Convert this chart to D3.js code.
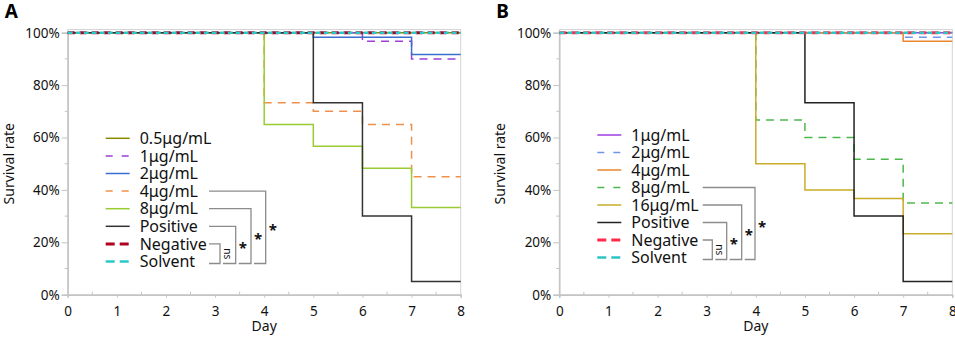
<!DOCTYPE html>
<html>
<head>
<meta charset="utf-8">
<script src="https://cdn.jsdelivr.net/npm/d3@7"></script>
<style>
body { margin: 0; background: #fff; }
text { font-family: "Noto Sans", "DejaVu Sans", sans-serif; }
</style>
</head>
<body>
<script>
// days 0..8, survival (%) from that day on
var days = [0, 1, 2, 3, 4, 5, 6, 7, 8]
var yTicks = [0, 20, 40, 60, 80, 100]

// panel A
var namesA = ['0.5μg/mL', '1μg/mL', '2μg/mL', '4μg/mL', '8μg/mL', 'Positive', 'Negative', 'Solvent']
var a_05 = [100, 100, 100, 100, 100, 100, 100, 100, 100]
var a_1 = [100, 100, 100, 100, 100, 100, 96.7, 90, 90]
var a_2 = [100, 100, 100, 100, 100, 98.3, 98.3, 91.7, 91.7]
var a_4 = [100, 100, 100, 100, 73.3, 70, 65, 45, 45]
var a_8 = [100, 100, 100, 100, 65, 56.7, 48.3, 33.3, 33.3]
var a_pos = [100, 100, 100, 100, 100, 73.3, 30, 5, 5]
var a_neg = [100, 100, 100, 100, 100, 100, 100, 100, 100]
var a_sol = [100, 100, 100, 100, 100, 100, 100, 100, 100]
var sigA = ['*', '*', '*', 'ns']  // 4, 8, Positive, Negative vs solvent

// panel B
var namesB = ['1μg/mL', '2μg/mL', '4μg/mL', '8μg/mL', '16μg/mL', 'Positive', 'Negative', 'Solvent']
var b_1 = [100, 100, 100, 100, 100, 100, 100, 100, 100]
var b_2 = [100, 100, 100, 100, 100, 100, 100, 98.3, 98.3]
var b_4 = [100, 100, 100, 100, 100, 100, 100, 96.7, 96.7]
var b_8 = [100, 100, 100, 100, 66.7, 60, 51.7, 35, 35]
var b_16 = [100, 100, 100, 100, 50, 40, 36.7, 23.3, 23.3]
var b_pos = [100, 100, 100, 100, 100, 73.3, 30, 5, 5]
var b_neg = [100, 100, 100, 100, 100, 100, 100, 100, 100]
var b_sol = [100, 100, 100, 100, 100, 100, 100, 100, 100]
var sigB = ['*', '*', '*', 'ns']

var stylesA = [
	{color: '#8a8a00', dash: null, w: 1.5},
	{color: '#9b3fd6', dash: '8,6', w: 1.5},
	{color: '#3a6fd0', dash: null, w: 1.5},
	{color: '#f0914b', dash: '8,6', w: 1.5},
	{color: '#99cc33', dash: null, w: 1.5},
	{color: '#333333', dash: null, w: 1.5},
	{color: '#b00020', dash: '7,5', w: 3},
	{color: '#2bc8c8', dash: '5,3', w: 2.5}
]
var stylesB = [
	{color: '#a03ce0', dash: null, w: 1.5},
	{color: '#6f95e8', dash: '8,6', w: 1.5},
	{color: '#e8862f', dash: null, w: 1.5},
	{color: '#4cb84c', dash: '8,6', w: 1.5},
	{color: '#c9ac2a', dash: null, w: 1.5},
	{color: '#222222', dash: null, w: 1.5},
	{color: '#ff2a4a', dash: '7,5', w: 3},
	{color: '#2cc4c4', dash: '5,3', w: 2.5}
]

var svg = d3.select('body').append('svg').attr('width', 955).attr('height', 337)

function drawPanel(left, label, names, series, styles, sig, legTop, legStep, brX, brEnds) {
	var x = d3.scaleLinear().domain([0, 8]).range([left, left + 393])
	var y = d3.scaleLinear().domain([0, 100]).range([294.7, 32.7])
	var g = svg.append('g')

	// frame
	g.append('rect').attr('x', x(0)).attr('y', y(101.2)).attr('width', x(8) - x(0))
		.attr('height', y(0) - y(101.2)).attr('fill', 'none').attr('stroke', '#d4d4d4').attr('stroke-width', 1)

	// minor ticks
	g.selectAll('.my').data(d3.range(10, 100, 20)).enter().append('line')
		.attr('x1', x(0) - 3).attr('x2', x(0)).attr('y1', d => y(d)).attr('y2', d => y(d))
		.attr('stroke', '#c4c4c4')
	g.selectAll('.mx').data(d3.range(0.5, 8, 1)).enter().append('line')
		.attr('x1', d => x(d)).attr('x2', d => x(d)).attr('y1', y(0) - 3).attr('y2', y(0))
		.attr('stroke', '#c4c4c4')

	var ax = g.append('g').attr('transform', `translate(0,${y(0)})`)
		.call(d3.axisBottom(x).tickValues(days).tickSize(3).tickFormat(d3.format('d')))
	var ay = g.append('g').attr('transform', `translate(${x(0)},0)`)
		.call(d3.axisLeft(y).tickValues(yTicks).tickSize(6).tickFormat(d => d + '%'))
	;[ax, ay].forEach(function(a) {
		a.select('.domain').attr('stroke', '#c4c4c4').attr('stroke-width', 1.5)
		a.selectAll('.tick line').attr('stroke', '#c4c4c4')
		a.selectAll('.tick text').attr('font-size', 13.5).attr('fill', '#111')
			.attr('font-family', '"Noto Sans", sans-serif')
	})
	ax.selectAll('.tick text').attr('dy', null).attr('y', 21.5)
	ay.selectAll('.tick text').attr('x', -8)

	g.append('text').text('Day').attr('x', x(4)).attr('y', 331)
		.attr('text-anchor', 'middle').attr('font-size', 14).attr('fill', '#111')
	g.append('text').text('Survival rate')
		.attr('transform', `translate(${left - 54},${(y(0) + y(100)) / 2}) rotate(-90)`)
		.attr('text-anchor', 'middle').attr('font-size', 14).attr('fill', '#111')
	g.append('text').text(label).attr('x', left - 63).attr('y', 18)
		.attr('font-size', 19).attr('font-weight', 'bold').attr('font-family', '"Liberation Sans", Arial, sans-serif')

	// curves
	var line = d3.line().x((d, i) => x(days[i])).y(d => y(d)).curve(d3.curveStepAfter)
	series.forEach(function(s, i) {
		g.append('path').datum(s).attr('d', line).attr('fill', 'none')
			.attr('stroke', styles[i].color).attr('stroke-width', styles[i].w)
			.attr('stroke-dasharray', styles[i].dash)
	})

	// legend
	var lx = left + 38
	names.forEach(function(n, i) {
		var yy = legTop + i * legStep
		g.append('line').attr('x1', lx).attr('x2', lx + 24).attr('y1', yy).attr('y2', yy)
			.attr('stroke', styles[i].color).attr('stroke-width', styles[i].w)
			.attr('stroke-dasharray', styles[i].dash ? (styles[i].w > 2 ? '9,5' : (styles[i].dash === '5,3' ? '5,4' : '7,9')) : null)
		g.append('text').text(n).attr('x', lx + 34).attr('y', yy).attr('dy', '0.35em')
			.attr('font-size', 16).attr('fill', '#111')
	})

	// significance brackets: legend rows 3..6 against the last row
	var bottom = legTop + 7 * legStep + 2
	var rows = [3, 4, 5, 6]
	rows.forEach(function(r, k) {
		var ty = legTop + r * legStep
		var xr = brEnds[k]
		var xl = k === 3 ? brX : brEnds[k + 1] + 3
		g.append('path').attr('d', `M${brX},${ty}H${xr}V${bottom}H${xl}`)
			.attr('fill', 'none').attr('stroke', '#8c8c8c').attr('stroke-width', 1.3)
		if (sig[k] === 'ns') {
			g.append('text').text('ns').attr('transform', `translate(${xr + 4},${(ty + bottom) / 2}) rotate(90)`)
				.attr('text-anchor', 'middle').attr('font-size', 10).attr('fill', '#111')
		} else {
			g.append('text').text('*').attr('x', xr + 7).attr('y', (ty + bottom) / 2 + 8)
				.attr('text-anchor', 'middle').attr('font-size', 15).attr('font-weight', 'bold').attr('fill', '#111')
		}
	})
}

drawPanel(67.7, 'A', namesA, [a_05, a_1, a_2, a_4, a_8, a_pos, a_neg, a_sol], stylesA, sigA,
	138.3, 17.6, 209, [265.7, 251, 235.7, 220])
drawPanel(559.3, 'B', namesB, [b_1, b_2, b_4, b_8, b_16, b_pos, b_neg, b_sol], stylesB, sigB,
	135, 17.5, 702.7, [755, 741.7, 726.7, 712.3])
</script>
</body>
</html>
